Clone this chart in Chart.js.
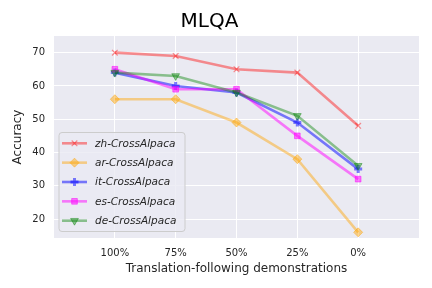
<!DOCTYPE html>
<html>
<head>
<meta charset="utf-8">
<script src="https://cdn.jsdelivr.net/npm/chart.js@4"></script>
<style>
  html, body { margin: 0; padding: 0; background: #fff; }
  #wrap { width: 432px; height: 288px; }
</style>
</head>
<body>
<div id="wrap"><canvas id="mlqaChart" width="432" height="288"></canvas></div>
<script>
const xLabels = ['100%', '75%', '50%', '25%', '0%'];
const yTicks = [20, 30, 40, 50, 60, 70];

const seriesNames = ['zh-CrossAlpaca', 'ar-CrossAlpaca', 'it-CrossAlpaca', 'es-CrossAlpaca', 'de-CrossAlpaca'];
const zhValues = [70, 69, 65, 64, 48];
const arValues = [56, 56, 49, 38, 16];
const itValues = [64, 60, 58, 49, 35];
const esValues = [65, 59, 59, 45, 32];
const deValues = [64, 63, 58, 51, 36];

const colors = ['rgba(255,0,0,0.42)', 'rgba(255,165,0,0.45)', 'rgba(0,0,255,0.5)', 'rgba(255,0,255,0.5)', 'rgba(0,128,0,0.42)'];
const markers = ['crossRot', 'rectRot', 'cross', 'rect', 'triangle'];
const rotations = [0, 0, 0, 0, 180];
const markerBorder = [1.2, 1, 3, 1, 1];
const markerRadius = [4, 4.5, 4, 4, 4.5];

const FONT = 'DejaVu Sans';
const TEXT = '#262626';

const allValues = [zhValues, arValues, itValues, esValues, deValues];
const datasets = allValues.map((vals, i) => ({
    label: seriesNames[i],
    data: vals.map((v, j) => ({ x: j, y: v })),
    borderColor: colors[i],
    backgroundColor: colors[i],
    borderWidth: 2.6,
    pointStyle: markers[i],
    pointRotation: rotations[i],
    pointRadius: markerRadius[i],
    pointBorderWidth: markerBorder[i],
    pointBorderColor: colors[i],
    pointBackgroundColor: colors[i],
    order: 4 - i,
    tension: 0
}));

// legend drawn inside the plot, lower left
const innerLegend = {
    id: 'innerLegend',
    afterDraw(chart) {
        const ctx = chart.ctx;
        const x0 = 59, y0 = 132.5, w = 126, h = 99;
        ctx.save();
        ctx.fillStyle = 'rgba(234,234,242,0.8)';
        ctx.strokeStyle = '#cccccc';
        ctx.lineWidth = 1;
        ctx.beginPath();
        ctx.roundRect(x0, y0, w, h, 3);
        ctx.fill();
        ctx.stroke();
        ctx.font = 'italic 10.5px "' + FONT + '"';
        ctx.textBaseline = 'middle';
        chart.data.datasets.forEach((ds, i) => {
            const cy = 143.3 + i * 19.35;
            ctx.strokeStyle = ds.borderColor;
            ctx.lineWidth = 2.6;
            ctx.beginPath();
            ctx.moveTo(62, cy);
            ctx.lineTo(87, cy);
            ctx.stroke();
            ctx.fillStyle = ds.backgroundColor;
            ctx.strokeStyle = ds.borderColor;
            ctx.lineWidth = ds.pointBorderWidth;
            Chart.helpers.drawPoint(ctx, {
                pointStyle: ds.pointStyle,
                rotation: ds.pointRotation,
                radius: ds.pointRadius,
                borderWidth: ds.pointBorderWidth
            }, 74.5, cy);
            ctx.fillStyle = TEXT;
            ctx.fillText(ds.label, 95, cy + 0.5);
        });
        ctx.restore();
    }
};

const plotBg = {
    id: 'plotBg',
    beforeDraw(chart) {
        const a = chart.chartArea;
        chart.ctx.save();
        chart.ctx.fillStyle = '#eaeaf2';
        chart.ctx.fillRect(a.left, a.top, a.right - a.left, a.bottom - a.top);
        chart.ctx.restore();
    }
};

const ctx = document.getElementById('mlqaChart').getContext('2d');
const mlqaChart = new Chart(ctx, {
    type: 'line',
    data: { datasets: datasets },
    options: {
        responsive: false,
        animation: false,
        layout: { padding: { left: 0, right: 13, top: 0, bottom: 0 } },
        plugins: {
            legend: { display: false },
            tooltip: { enabled: false },
            title: {
                display: true,
                text: 'MLQA',
                color: '#000',
                font: { family: FONT, size: 20, weight: 'normal' },
                padding: { top: 10, bottom: 2 }
            }
        },
        scales: {
            x: {
                type: 'linear',
                min: -1,
                max: 5,
                afterBuildTicks: (scale) => { scale.ticks = xLabels.map((_, i) => ({ value: i })); },
                afterFit: (scale) => { scale.height = 50; },
                ticks: {
                    callback: (v) => xLabels[v],
                    color: TEXT,
                    font: { family: FONT, size: 10 },
                    padding: 9,
                    maxRotation: 0,
                    autoSkip: false
                },
                grid: { color: '#ffffff', lineWidth: 1, drawTicks: false },
                border: { display: false },
                title: {
                    display: true,
                    text: 'Translation-following demonstrations',
                    color: TEXT,
                    font: { family: FONT, size: 12 },
                    padding: { top: 0, bottom: 12 }
                }
            },
            y: {
                min: 14.3,
                max: 75,
                afterBuildTicks: (scale) => { scale.ticks = yTicks.map(v => ({ value: v })); },
                afterFit: (scale) => { scale.width = 54; },
                ticks: {
                    color: TEXT,
                    font: { family: FONT, size: 10 },
                    padding: 9
                },
                grid: { color: '#ffffff', lineWidth: 1, drawTicks: false },
                border: { display: false },
                title: {
                    display: true,
                    text: 'Accuracy',
                    color: TEXT,
                    font: { family: FONT, size: 12 },
                    padding: { top: 11, bottom: 0 }
                }
            }
        }
    },
    plugins: [plotBg, innerLegend]
});
</script>
</body>
</html>
